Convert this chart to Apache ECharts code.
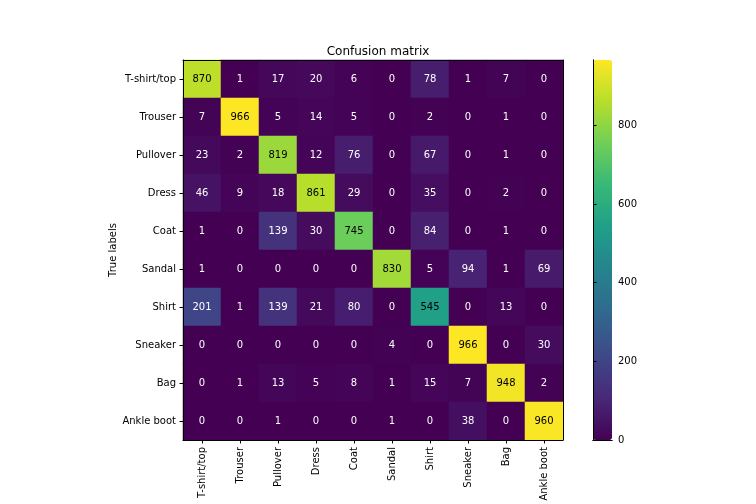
<!DOCTYPE html>
<html>
<head>
<meta charset="utf-8">
<script src="https://cdn.jsdelivr.net/npm/echarts@6/dist/echarts.min.js"></script>
<style>
  html, body { margin: 0; padding: 0; background: #fff; }
  #chart { width: 756px; height: 504px; }
</style>
</head>
<body>
<div id="chart"></div>
<script>
// class names (same order on both axes)
var classes = ['T-shirt/top', 'Trouser', 'Pullover', 'Dress', 'Coat',
               'Sandal', 'Shirt', 'Sneaker', 'Bag', 'Ankle boot'];

// one row per true label, columns = predicted label
var rowTshirt   = [870, 1, 17, 20, 6, 0, 78, 1, 7, 0];
var rowTrouser  = [7, 966, 5, 14, 5, 0, 2, 0, 1, 0];
var rowPullover = [23, 2, 819, 12, 76, 0, 67, 0, 1, 0];
var rowDress    = [46, 9, 18, 861, 29, 0, 35, 0, 2, 0];
var rowCoat     = [1, 0, 139, 30, 745, 0, 84, 0, 1, 0];
var rowSandal   = [1, 0, 0, 0, 0, 830, 5, 94, 1, 69];
var rowShirt    = [201, 1, 139, 21, 80, 0, 545, 0, 13, 0];
var rowSneaker  = [0, 0, 0, 0, 0, 4, 0, 966, 0, 30];
var rowBag      = [0, 1, 13, 5, 8, 1, 15, 7, 948, 2];
var rowAnkle    = [0, 0, 1, 0, 0, 1, 0, 38, 0, 960];

var colorbarTicks = [0, 200, 400, 600, 800];

var viridis = ['#440154', '#482878', '#3e4989', '#31688e', '#26828e',
               '#1f9e89', '#35b779', '#6ece58', '#b5de2b', '#fde725'];

var rows = [rowTshirt, rowTrouser, rowPullover, rowDress, rowCoat,
            rowSandal, rowShirt, rowSneaker, rowBag, rowAnkle];

var vmax = 0;
rows.forEach(function (r) { r.forEach(function (v) { if (v > vmax) vmax = v; }); });
var thresh = vmax / 2;

var cells = [];
for (var i = 0; i < rows.length; i++) {
    for (var j = 0; j < rows[i].length; j++) {
        var v = rows[i][j];
        cells.push({
            value: [j, i, v],
            label: {color: v > thresh ? '#000' : '#fff'}
        });
    }
}

var font = 'DejaVu Sans';
var spine = {show: true, lineStyle: {color: '#000', width: 1}};
var tick = {show: true, length: 3.5, inside: false, alignWithLabel: true, lineStyle: {color: '#000'}};

var chart = echarts.init(document.getElementById('chart'), null, {renderer: 'canvas'});
chart.setOption({
    backgroundColor: '#fff',
    animation: false,
    title: {
        text: 'Confusion matrix',
        left: 373, top: 41, textAlign: 'center',
        textStyle: {fontFamily: font, fontSize: 12, fontWeight: 'normal', color: '#000'}
    },
    grid: [
        {left: 183, top: 60, width: 380, height: 380, containLabel: false},
        {left: 593, top: 60, width: 19, height: 380, containLabel: false}
    ],
    xAxis: [
        {
            type: 'category', gridIndex: 0, data: classes, position: 'bottom', z: 10,
            axisLine: spine, axisTick: tick, splitLine: {show: false},
            axisLabel: {rotate: 90, margin: 7, interval: 0, fontFamily: font, fontSize: 10, color: '#000'}
        },
        {
            type: 'category', gridIndex: 0, data: classes, position: 'top', z: 10,
            axisLine: spine, axisTick: {show: false}, axisLabel: {show: false}, splitLine: {show: false}
        },
        {
            type: 'value', gridIndex: 1, min: 0, max: 1, position: 'bottom', z: 10,
            axisLine: spine, axisTick: {show: false}, axisLabel: {show: false}, splitLine: {show: false}
        },
        {
            type: 'value', gridIndex: 1, min: 0, max: 1, position: 'top', z: 10,
            axisLine: spine, axisTick: {show: false}, axisLabel: {show: false}, splitLine: {show: false}
        }
    ],
    yAxis: [
        {
            type: 'category', gridIndex: 0, data: classes, inverse: true, position: 'left', z: 10,
            name: 'True labels', nameLocation: 'middle', nameGap: 65, nameRotate: 90,
            nameMoveOverlap: false,
            nameTextStyle: {fontFamily: font, fontSize: 10, color: '#000'},
            axisLine: spine, axisTick: tick, splitLine: {show: false},
            axisLabel: {margin: 7, interval: 0, fontFamily: font, fontSize: 10, color: '#000'}
        },
        {
            type: 'category', gridIndex: 0, data: classes, inverse: true, position: 'right', z: 10,
            axisLine: spine, axisTick: {show: false}, axisLabel: {show: false}, splitLine: {show: false}
        },
        {
            type: 'value', gridIndex: 1, min: 0, max: vmax, position: 'right', z: 10,
            axisLine: spine, splitLine: {show: false},
            axisLabel: {
                margin: 6, fontFamily: font, fontSize: 10, color: '#000',
                customValues: colorbarTicks
            },
            axisTick: {show: true, length: 3.5, lineStyle: {color: '#000'}, customValues: colorbarTicks}
        },
        {
            type: 'value', gridIndex: 1, min: 0, max: vmax, position: 'left', z: 10,
            axisLine: spine, axisTick: {show: false}, axisLabel: {show: false}, splitLine: {show: false}
        }
    ],
    visualMap: {
        type: 'continuous',
        seriesIndex: 0,
        min: 0, max: vmax,
        calculable: false,
        orient: 'vertical',
        left: 593, top: 60,
        itemWidth: 19, itemHeight: 380,
        padding: 0,
        text: null,
        showLabel: false,
        inRange: {color: viridis}
    },
    series: [{
        type: 'heatmap',
        xAxisIndex: 0, yAxisIndex: 0,
        data: cells,
        label: {show: true, fontFamily: font, fontSize: 10},
        itemStyle: {borderWidth: 0},
        emphasis: {disabled: true}
    }]
});
</script>
</body>
</html>
